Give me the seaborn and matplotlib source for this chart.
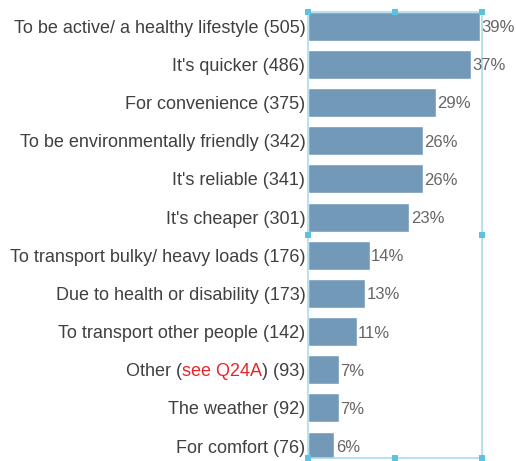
import matplotlib
matplotlib.use("Agg")
import matplotlib.pyplot as plt
import seaborn as sns
import pandas as pd

# Data
reasons = ["To be active/ a healthy lifestyle", "It's quicker", "For convenience",
           "To be environmentally friendly", "It's reliable", "It's cheaper",
           "To transport bulky/ heavy loads", "Due to health or disability",
           "To transport other people", "Other (see Q24A)", "The weather", "For comfort"]
counts = [505, 486, 375, 342, 341, 301, 176, 173, 142, 93, 92, 76]
percents = [39, 37, 29, 26, 26, 23, 14, 13, 11, 7, 7, 6]

df = pd.DataFrame({"reason": reasons, "n": counts, "pct": percents})
df["label"] = [f"{r} ({n})" for r, n in zip(reasons, counts)]

sns.set_style("white")
plt.rcParams["font.family"] = ["Liberation Sans", "DejaVu Sans"]
FS = 13
GREY = "#404040"

fig = plt.figure(figsize=(5.16, 4.61), dpi=100)
ax = fig.add_axes([0.597, 0.0065, 0.337, 0.9675])

sns.barplot(data=df, x="pct", y="label", color="#7399b9", saturation=1,
            width=0.76, ax=ax)

ax.set_xlim(0, 39.45)
ax.set_ylim(11.31, -0.37)
ax.set_xlabel("")
ax.set_ylabel("")
ax.set_xticks([])
ax.tick_params(axis="y", length=0, pad=2, labelsize=FS, labelcolor=GREY)

# percent labels
for i, p in enumerate(percents):
    ax.annotate(f"{p}%", xy=(p, i), xytext=(1, 0), textcoords="offset points",
                ha="left", va="center_baseline", fontsize=12, color="#666666")

# red "see Q24A" inside the Other label
idx = reasons.index("Other (see Q24A)")
tick_labels = [t.get_text() for t in ax.get_yticklabels()]
tick_labels[idx] = ""
ax.set_yticks(range(len(reasons)))
ax.set_yticklabels(tick_labels)
t1 = ax.annotate(f") ({counts[idx]})", xy=(0, idx), xycoords=("axes fraction", "data"),
                 xytext=(-2, 0), textcoords="offset points", ha="right",
                 va="center_baseline", fontsize=FS, color=GREY)
t2 = ax.annotate("see Q24A", xy=(0, 0), xycoords=t1, ha="right", va="bottom",
                 fontsize=FS, color="#e8262a")
ax.annotate("Other (", xy=(0, 0), xycoords=t2, ha="right", va="bottom",
            fontsize=FS, color=GREY)

# selection frame look
for s in ax.spines.values():
    s.set_visible(True)
    s.set_color("#a9dbeb")
    s.set_linewidth(1.2)
hx = [0, 0.5, 1, 0, 1, 0, 0.5, 1]
hy = [1, 1, 1, 0.5, 0.5, 0, 0, 0]
ax.scatter(hx, hy, marker="s", s=14, color="#5cc3df", transform=ax.transAxes,
           clip_on=False, zorder=5, linewidths=0)

fig.savefig("out.png", dpi=100)
